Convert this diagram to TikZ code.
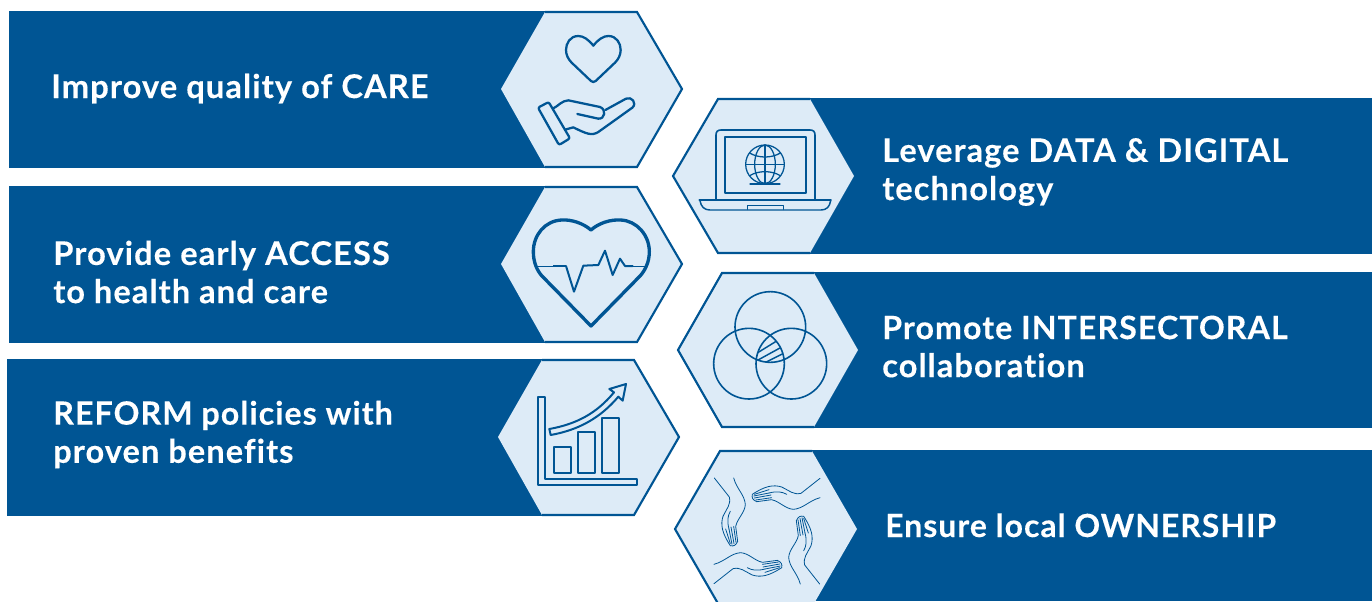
\documentclass[tikz,border=0pt]{standalone}
\usepackage{fontspec}
\setmainfont[LetterSpace=3.3,Ligatures=NoCommon,Contextuals=NoAlternate,FakeBold=0.25]{Lato Bold}
\definecolor{navy}{HTML}{005594}
\definecolor{pale}{HTML}{DDEBF7}
\tikzset{
  band/.style={fill=navy,draw=none},
  hexfill/.style={fill=pale,draw=none},
  hexline/.style={draw=navy,line width=1.6pt,line join=miter},
  icon/.style={draw=navy,line width=1.7pt,line join=round,line cap=round},
  thinicon/.style={draw=navy,line width=0.95pt,line join=round,line cap=round},
  fine/.style={draw=navy,line width=0.6pt,line join=round,line cap=round},
  lab/.style={text=white,align=left,inner sep=0pt,font=\fontsize{24.4pt}{28.6pt}\selectfont},
  zoomed/.style={x=0.25pt,y=-0.25pt}
}
\newcommand{\handshape}{%
  \draw[fine] (465,112) -- (408,157) .. controls (385,162) and (375,150) .. (350,138)
     .. controls (325,130) and (300,135) .. (262,160);
  \draw[fine] (465,170) .. controls (430,180) and (415,203) .. (385,205)
     .. controls (360,203) and (345,182) .. (320,176) -- (275,182);
  \draw[fine] (262,160) .. controls (260,170) and (262,176) .. (275,182);
  \draw[fine] (312,156) .. controls (335,150) and (352,152) .. (365,160);
  \draw[fine] (268,160) -- (312,146);
  \draw[fine] (266,165) -- (312,156);
  \draw[fine] (268,171) -- (318,162);
  \draw[fine] (272,177) -- (320,170);
}
\begin{document}
\begin{tikzpicture}[x=0.75pt,y=-0.75pt]
\useasboundingbox (0,0) rectangle (1372,601);
\clip (0,0) rectangle (1372,601);
% bands
\fill[band] (9,11) rectangle (600,168);
\fill[band] (9,186) rectangle (600,343);
\fill[band] (7,359) rectangle (600,516);
\fill[band] (760,98) rectangle (1372,254);
\fill[band] (760,272) rectangle (1372,428);
\fill[band] (760,450) rectangle (1372,601);
% hexagon fills
\path[hexfill] (501,89) -- (545,12) -- (637,12) -- (682,89) -- (637,167) -- (545,167) -- cycle;
\path[hexfill] (501,264) -- (545,187) -- (637,187) -- (682,264) -- (637,342) -- (545,342) -- cycle;
\path[hexfill] (498,437) -- (542,360) -- (634,360) -- (679,437) -- (634,515) -- (542,515) -- cycle;
\path[hexfill] (673,176) -- (718,99) -- (810,99) -- (854,176) -- (810,253) -- (718,253) -- cycle;
\path[hexfill] (678,350) -- (722,273) -- (814,273) -- (858,350) -- (814,427) -- (722,427) -- cycle;
\path[hexfill] (675,529) -- (720,451) -- (812,451) -- (857,529) -- (812,607) -- (720,607) -- cycle;
% hexagon outlines on the sides away from the bands
\path[hexline] (545,12) -- (637,12) -- (682,89) -- (637,167) -- (545,167);
\path[hexline] (545,187) -- (637,187) -- (682,264) -- (637,342) -- (545,342);
\path[hexline] (542,360) -- (634,360) -- (679,437) -- (634,515) -- (542,515);
\path[hexline] (810,99) -- (718,99) -- (673,176) -- (718,253) -- (810,253);
\path[hexline] (814,273) -- (722,273) -- (678,350) -- (722,427) -- (814,427);
\path[hexline] (812,451) -- (720,451) -- (675,529) -- (720,607);
% labels
\node[lab,anchor=base west] (care) at (51,98) {\fontsize{24.5pt}{28.6pt}\selectfont Improve quality of CARE};
\node[lab,anchor=west] (access) at (53,272) {\fontsize{24.5pt}{28.6pt}\selectfont Provide early ACCESS\\to health and care};
\node[lab,anchor=west] (reform) at (53,434.5) {\fontsize{24.1pt}{28.6pt}\selectfont REFORM policies with\\proven benefits};
\node[lab,anchor=west] (data) at (882,172) {Leverage DATA \& DIGITAL\\technology};
\node[lab,anchor=west] (inter) at (882,346.5) {\fontsize{24.1pt}{28.6pt}\selectfont Promote INTERSECTORAL\\collaboration};
\node[lab,anchor=base west] (owner) at (885,537) {\fontsize{23.9pt}{28.6pt}\selectfont Ensure local OWNERSHIP};
% icon 1: heart and hand
\begin{scope}[shift={(490,0)},zoomed]
\path[icon] (310,137) .. controls (295,118) and (280,108) .. (265,108)
  .. controls (240,108) and (228,130) .. (228,150)
  .. controls (228,165) and (235,178) .. (245,188)
  -- (303,243) .. controls (308,247) and (312,247) .. (317,243)
  -- (375,188) .. controls (385,178) and (392,165) .. (392,150)
  .. controls (392,130) and (380,108) .. (355,108)
  .. controls (340,108) and (325,118) .. (310,137) -- cycle;
\path[icon,rounded corners=1.5pt] (144,323) -- (176,306) -- (240,415) -- (207,435) -- cycle;
\path[icon] (190,325) .. controls (205,318) and (215,302) .. (235,301)
  -- (330,321) .. controls (350,328) and (345,358) .. (325,356) -- (262,342);
\path[icon] (346,330) -- (408,296) .. controls (425,288) and (442,310) .. (427,323)
  -- (325,396) .. controls (305,408) and (290,402) .. (250,382) -- (225,389);
\end{scope}
% icon 2: heart with pulse
\begin{scope}[shift={(490,180)},zoomed]
\path[draw=navy,line width=2.5pt,line join=round] (303,150)
  .. controls (280,130) and (245,118) .. (215,120)
  .. controls (165,122) and (130,165) .. (130,215)
  .. controls (130,245) and (140,270) .. (155,287)
  -- (303,438) -- (451,287)
  .. controls (466,270) and (478,245) .. (478,215)
  .. controls (478,165) and (440,122) .. (392,120)
  .. controls (360,118) and (325,130) .. (303,150) -- cycle;
\draw[draw=navy,line width=0.6pt] (145,258) -- (195,258);
\draw[draw=navy,line width=0.6pt] (425,258) -- (465,258);
\draw[draw=navy,line width=1.2pt] (190,258) -- (228,258);
\draw[draw=navy,line width=1.5pt,line join=round,line cap=round] (228,258) -- (252,335) -- (280,257) -- (325,255) -- (345,212) -- (368,285) -- (390,236) -- (405,258) -- (428,258);
\end{scope}
% icon 3: bar chart
\begin{scope}[shift={(490,350)},zoomed]
\path[icon,line width=1.5pt] (145,140) -- (165,140) -- (165,386) -- (440,386) -- (440,406) -- (145,406) -- cycle;
\path[icon,line width=1.5pt] (192,292) rectangle (243,368);
\path[icon,line width=1.5pt] (264,247) rectangle (316,368);
\path[icon,line width=1.5pt] (336,203) rectangle (388,368);
\path[icon,line width=1.5pt] (178,237) .. controls (260,222) and (320,190) .. (372,127)
  -- (358,117) -- (408,102) -- (398,152) -- (385,140)
  .. controls (330,205) and (265,240) .. (182,255) -- cycle;
\end{scope}
% icon 4: laptop with globe
\begin{scope}[shift={(665,90)},zoomed]
\path[thinicon,line width=1.2pt] (153,328) -- (153,135) .. controls (153,125) and (158,120) .. (168,120)
  -- (435,120) .. controls (445,120) and (450,125) .. (450,135) -- (450,328);
\path[thinicon,line width=1.3pt] (179,141) rectangle (423,309);
\path[thinicon,line width=1.3pt] (103,329) -- (498,329);
\path[thinicon,line width=1.1pt] (105,332) .. controls (108,350) and (118,360) .. (135,360) -- (468,360)
  .. controls (485,360) and (494,350) .. (497,332);
\path[thinicon,line width=1.1pt] (247,358) -- (247,346) -- (355,346) -- (355,358);
\path[thinicon] (300,223) circle[radius=58];
\path[thinicon] (300,223) ellipse[x radius=31,y radius=58];
\path[thinicon] (300,165) -- (300,281);
\path[thinicon] (242,223) -- (358,223);
\path[thinicon] (254,189) .. controls (280,205) and (320,205) .. (346,189);
\path[thinicon] (254,257) .. controls (280,241) and (320,241) .. (346,257);
\path[thinicon] (255,282) -- (345,282);
\end{scope}
% icon 5: three overlapping circles
\begin{scope}[shift={(665,265)},zoomed]
\begin{scope}
\clip (316,186) circle[radius=106];
\clip (252,296) circle[radius=106];
\clip (379,296) circle[radius=106];
\draw[draw=navy,line width=1.1pt] (270,268) -- (335,228);
\draw[draw=navy,line width=1.1pt] (270,290) -- (352,245);
\draw[draw=navy,line width=1.1pt] (290,298) -- (362,262);
\end{scope}
\path[draw=navy,line width=1.2pt] (316,186) circle[radius=106];
\path[draw=navy,line width=1.2pt] (252,296) circle[radius=106];
\path[draw=navy,line width=1.2pt] (379,296) circle[radius=106];
\end{scope}
% icon 6: four hands in a ring
\begin{scope}[shift={(665,441)},zoomed]
\begin{scope}[shift={(306,270)},rotate=0,shift={(-306,-270)}]\handshape\end{scope}
\begin{scope}[shift={(306,270)},rotate=-90,shift={(-306,-270)}]\handshape\end{scope}
\begin{scope}[shift={(306,270)},rotate=-180,shift={(-306,-270)}]\handshape\end{scope}
\begin{scope}[shift={(306,270)},rotate=-270,shift={(-306,-270)}]\handshape\end{scope}
\end{scope}
\end{tikzpicture}
\end{document}
